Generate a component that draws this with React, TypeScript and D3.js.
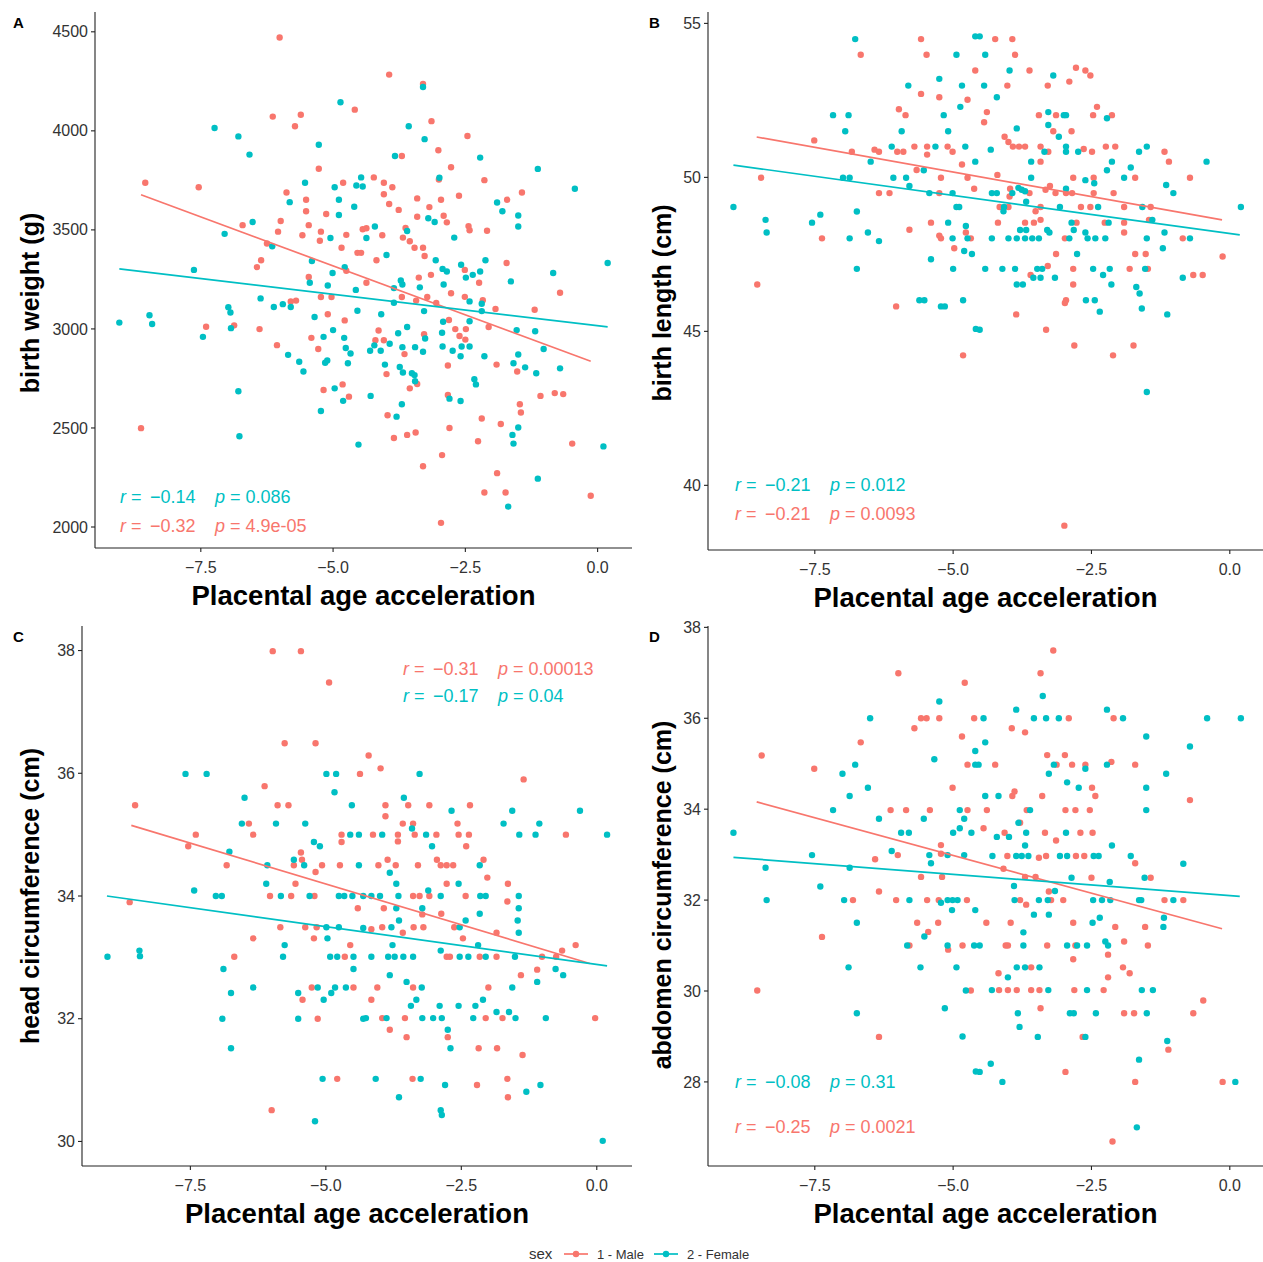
import React from 'react';
import * as d3 from 'd3';

const W = 1263;
const H = 1262;
const MALE = '#F8766D';
const FEMALE = '#00BFC4';
const FONT = '"Liberation Sans", Arial, sans-serif';
const NB = '\u00A0';

const xTicks = [-7.5, -5.0, -2.5, 0.0];
const weightTicks = [2000, 2500, 3000, 3500, 4000, 4500];
const lengthTicks = [40, 45, 50, 55];
const headTicks = [30, 32, 34, 36, 38];
const abdomenTicks = [28, 30, 32, 34, 36, 38];

// placental age acceleration vs birth weight (g)
const weightMale = [
  [-6.01,4471],[-4.59,4107],[-6.14,4072],[-5.61,4081],[-5.72,4023],[-5.27,3809],[-8.55,3738],[-7.54,3715],[-4.81,3738],
  [-5.88,3689],[-5.51,3652],[-5.51,3594],[-5.13,3580],[-5.99,3545],[-5.46,3524],[-6.71,3524],[-6.04,3491],[-5.23,3491],
  [-5.58,3473],[-4.75,3475],[-5.25,3445],[-6.25,3431],[-4.84,3410],[-4.54,3384],[-4.47,3384],[-4.44,3503],[-6.36,3347],
  [-6.44,3312],[-4.75,3294],[-5.46,3262],[-5.23,3161],[-5.03,3161],[-5.80,3139],[-5.70,3143],[-7.40,3011],[-6.87,3018],
  [-6.39,2999],[-5.10,3074],[-4.78,3043],[-5.41,2955],[-5.28,2899],[-6.06,2918],[-5.18,2692],[-4.82,2720],[-4.70,2658],
  [-8.63,2499],
  [-3.94,4284],[-3.30,4237],[-3.14,4049],[-2.46,3974],[-3.01,3902],[-3.70,3873],[-2.77,3816],[-3.00,3754],[-2.14,3751],
  [-4.23,3765],[-4.04,3738],[-3.88,3715],[-4.04,3680],[-3.94,3631],[-3.76,3601],[-3.41,3659],[-3.18,3615],[-2.96,3652],
  [-2.62,3672],[-3.41,3566],[-2.91,3571],[-2.85,3538],[-2.44,3519],[-2.42,3498],[-1.71,3652],[-1.43,3689],[-2.09,3496],
  [-4.37,3508],[-4.07,3473],[-3.63,3510],[-3.68,3461],[-3.55,3443],[-3.46,3410],[-3.30,3410],[-3.27,3368],[-4.18,3347],
  [-3.15,3273],[-3.38,3259],[-4.37,3233],[-3.70,3161],[-3.43,3143],[-3.22,3161],[-3.05,3131],[-2.51,3298],[-2.24,3233],
  [-2.51,3162],[-2.77,3180],[-2.17,3145],[-1.93,3101],[-1.72,3333],[-0.71,3183],[-1.19,3097],[-4.14,2992],[-4.20,2943],
  [-4.04,2943],[-3.65,2873],[-3.28,2973],[-2.81,3045],[-2.69,2999],[-2.61,2964],[-2.50,2946],[-2.49,2999],[-2.06,3010],
  [-1.52,2785],[-1.91,2820],[-3.99,2772],[-3.41,2722],[-3.55,2700],[-2.83,2815],[-2.83,2667],[-3.97,2564],[-3.85,2449],
  [-3.60,2465],[-3.44,2477],[-2.80,2500],[-2.19,2548],[-1.83,2520],[-2.26,2433],[-1.47,2620],[-1.45,2578],[-1.08,2662],
  [-0.81,2676],[-0.65,2671],[-0.48,2421],[-3.30,2307],[-2.94,2363],[-1.90,2272],[-2.14,2174],[-1.74,2174],[-0.13,2158],
  [-2.96,2021],
];
const weightFemale = [
  [-4.86,4144],[-7.24,4014],[-6.79,3972],[-6.58,3880],[-5.27,3930],[-5.53,3738],[-4.97,3715],[-4.56,3724],[-4.47,3765],
  [-4.44,3719],[-5.82,3640],[-4.89,3652],[-4.60,3617],[-4.89,3575],[-6.52,3540],[-7.05,3480],[-5.05,3459],[-6.15,3417],
  [-5.40,3343],[-4.78,3312],[-7.63,3298],[-5.01,3282],[-5.44,3233],[-5.10,3219],[-4.57,3197],[-6.37,3154],[-6.12,3111],
  [-5.95,3125],[-5.80,3111],[-4.54,3092],[-6.98,3110],[-6.94,3083],[-8.47,3069],[-8.42,3025],[-9.04,3032],[-7.46,2960],
  [-6.93,3004],[-5.35,3060],[-5.00,2994],[-5.18,2960],[-4.79,2955],[-4.76,2904],[-4.67,2876],[-5.85,2869],[-5.64,2834],
  [-5.56,2785],[-5.15,2829],[-5.11,2841],[-4.72,2827],[-6.79,2685],[-4.97,2700],[-4.81,2637],[-5.23,2586],[-6.77,2458],
  [-4.52,2416],
  [-3.30,4221],[-3.57,4023],[-3.27,3958],[-3.83,3873],[-2.22,3865],[-1.13,3808],[-2.99,3763],[-0.43,3708],[-3.20,3559],
  [-3.08,3540],[-1.90,3638],[-1.80,3594],[-1.50,3573],[-1.50,3517],[-4.21,3517],[-4.37,3459],[-3.60,3494],[-2.71,3461],
  [-3.99,3373],[-3.06,3347],[-2.93,3303],[-2.85,3290],[-3.72,3245],[-3.69,3224],[-3.85,3206],[-3.85,3132],[-3.36,3210],
  [-3.28,3090],[-2.91,3224],[-2.58,3324],[-2.49,3259],[-2.36,3273],[-2.22,3290],[-2.12,3347],[-2.42,3139],[-2.19,3127],
  [-2.19,3090],[-1.64,3240],[-0.84,3282],[-4.09,3074],[-3.93,2925],[-4.22,2917],[-4.30,2890],[-4.10,2890],[-3.77,2978],
  [-3.60,3010],[-3.69,2908],[-3.45,2908],[-3.30,2885],[-3.26,2952],[-2.94,2981],[-2.92,3036],[-2.42,3039],[-2.93,2911],
  [-2.74,2890],[-2.59,2862],[-2.57,2911],[-2.42,2911],[-2.14,2862],[-1.53,2994],[-1.18,2988],[-1.02,2899],[-1.50,2871],
  [-1.59,2827],[-1.37,2806],[-1.16,2776],[-0.71,2801],[-4.02,2820],[-3.74,2808],[-3.68,2780],[-3.51,2776],[-3.46,2767],
  [-3.45,2736],[-4.29,2662],[-2.80,2648],[-2.59,2636],[-2.33,2746],[-2.30,2720],[-3.70,2620],[-3.80,2557],[-1.50,2502],
  [-1.61,2465],[-1.59,2421],[0.11,2407],[0.19,3333],[-1.13,2244],[-1.69,2103],
];
const weightFitMale = [[-8.63,3677],[-0.13,2837]];
const weightFitFemale = [[-9.04,3303],[0.19,3010]];
const weightStats = [
  { sex: 'female', r: '\u22120.14', p: '0.086' },
  { sex: 'male', r: '\u22120.32', p: '4.9e-05' },
];

// birth length (cm)
const lengthMale = [
  [-5.58,54.49],[-6.67,53.98],[-5.48,53.98],[-4.60,53.47],[-5.58,52.71],[-5.25,52.60],[-4.74,52.52],[-5.98,52.21],[-5.86,52.02],
  [-7.51,51.20],[-5.70,51.00],[-5.47,51.00],[-5.10,51.00],[-6.42,50.90],[-6.34,50.83],[-6.01,50.83],[-5.90,50.83],[-6.83,50.83],
  [-5.47,50.74],[-5.01,50.83],[-4.84,50.42],[-5.66,50.24],[-8.47,49.99],[-5.22,49.99],[-4.74,49.99],[-6.34,49.49],[-6.15,49.49],
  [-5.25,49.49],[-4.62,49.63],[-7.37,48.02],[-5.79,48.30],[-5.40,48.53],[-5.25,48.11],[-5.22,48.02],[-4.98,47.70],[-4.77,48.21],
  [-4.68,48.02],[-8.54,46.52],[-6.03,45.81],[-4.82,44.22],
  [-4.24,54.49],[-3.93,54.49],[-3.88,53.98],[-3.62,53.47],[-2.78,53.56],[-2.61,53.47],[-2.52,53.31],[-4.02,52.98],[-3.29,52.98],
  [-2.90,53.11],[-2.40,52.29],[-4.39,52.12],[-4.44,51.79],[-3.45,52.02],[-3.14,52.02],[-2.47,52.02],[-2.13,52.02],[-3.19,51.50],
  [-2.86,51.50],[-4.07,51.32],[-4.00,51.15],[-3.92,51.00],[-3.81,51.00],[-3.70,51.00],[-3.42,51.00],[-3.28,50.83],[-2.64,50.92],
  [-2.49,50.83],[-2.24,51.00],[-2.07,51.00],[-1.18,50.83],[-1.10,50.51],[-3.42,50.51],[-4.20,50.08],[-2.83,49.99],[-2.46,49.99],
  [-1.71,49.99],[-0.72,49.99],[-3.97,49.63],[-3.62,49.49],[-3.33,49.60],[-3.25,49.72],[-3.15,49.49],[-2.96,49.49],[-2.85,49.49],
  [-2.46,49.49],[-2.10,49.49],[-3.98,49.38],[-4.16,49.04],[-4.00,49.04],[-3.51,48.90],[-3.42,49.04],[-2.69,49.04],[-2.52,49.04],
  [-1.91,49.04],[-1.43,49.04],[-4.19,48.53],[-3.70,48.53],[-3.54,48.53],[-3.42,48.62],[-2.77,48.53],[-2.26,48.53],[-1.91,48.53],
  [-1.91,48.21],[-1.46,48.62],[-2.98,48.02],[-0.85,48.02],[-3.14,47.51],[-1.71,47.51],[-1.52,47.51],[-0.13,47.43],[-3.29,47.12],
  [-3.60,46.83],[-2.83,47.03],[-2.83,46.52],[-1.81,47.03],[-1.48,47.03],[-0.66,46.83],[-0.49,46.83],[-2.96,46.01],[-2.98,45.92],
  [-3.86,45.55],[-3.32,45.05],[-2.81,44.54],[-2.11,44.22],[-1.74,44.54],[-2.99,38.69],
];
const lengthFemale = [
  [-6.77,54.49],[-4.94,53.98],[-4.60,54.58],[-5.25,53.20],[-5.81,52.98],[-4.84,52.98],[-4.87,52.29],[-7.17,52.02],[-6.89,52.02],
  [-5.17,52.02],[-6.95,51.50],[-5.93,51.50],[-5.09,51.50],[-6.11,51.00],[-5.32,51.00],[-4.78,51.00],[-6.49,50.51],[-4.60,50.51],
  [-5.53,50.23],[-6.99,49.99],[-6.87,49.99],[-6.08,49.99],[-5.85,49.99],[-5.79,49.72],[-5.43,49.49],[-5.01,49.49],[-8.97,49.04],
  [-8.39,48.62],[-8.37,48.21],[-7.55,48.53],[-7.40,48.79],[-6.87,48.02],[-6.74,48.89],[-6.54,48.21],[-6.34,47.93],[-5.09,48.53],
  [-5.01,48.02],[-4.94,49.04],[-4.89,49.04],[-4.77,48.42],[-4.74,48.02],[-4.80,47.61],[-4.66,47.51],[-5.40,47.34],[-5.00,47.03],
  [-6.74,47.03],[-5.61,46.01],[-5.52,46.01],[-5.22,45.81],[-5.15,45.81],[-4.82,46.01],[-4.59,45.08],
  [-4.52,54.58],[-4.42,53.98],[-3.98,53.47],[-3.19,53.31],[-4.44,52.98],[-4.21,52.60],[-3.28,52.12],[-3.00,52.02],[-2.96,52.02],
  [-2.22,51.92],[-3.28,51.70],[-3.09,51.32],[-3.85,51.59],[-4.32,50.90],[-3.35,50.83],[-2.96,51.00],[-2.96,50.83],[-2.74,50.83],
  [-1.64,50.83],[-1.50,51.00],[-0.42,50.51],[-3.59,50.51],[-2.13,50.51],[-2.22,50.23],[-1.79,50.32],[-3.59,49.99],[-2.61,49.91],
  [-2.45,49.81],[-1.91,49.99],[-1.15,49.75],[-1.02,49.49],[-4.30,49.49],[-4.21,49.49],[-3.93,49.49],[-3.82,49.66],[-3.76,49.60],
  [-3.70,49.55],[-2.96,49.63],[-3.68,49.21],[-4.08,49.04],[-4.09,48.90],[-3.07,49.04],[-2.38,49.04],[-1.58,49.04],[-3.79,48.29],
  [-3.68,48.29],[-3.30,48.29],[-3.26,48.21],[-2.86,48.53],[-2.82,48.29],[-2.61,48.21],[-2.19,48.53],[-1.40,48.62],[-1.18,48.21],
  [-4.30,48.02],[-4.00,48.02],[-3.85,48.02],[-3.70,48.02],[-3.57,48.02],[-3.45,48.02],[-2.90,48.02],[-2.57,48.02],[-2.43,48.02],
  [-2.25,48.02],[-1.50,48.02],[-0.72,48.02],[-2.76,47.51],[-1.21,47.70],[-4.42,47.03],[-4.11,47.03],[-3.88,47.03],[-3.48,47.03],
  [-3.39,47.03],[-3.55,46.74],[-3.42,46.74],[-3.16,46.74],[-3.85,46.52],[-3.74,46.52],[-2.47,47.03],[-2.29,46.83],[-2.17,47.03],
  [-2.14,46.52],[-1.53,47.03],[-1.69,46.44],[-1.63,46.23],[-0.85,46.74],[-2.60,46.01],[-2.44,46.01],[-2.35,45.64],[-1.59,45.74],
  [-1.13,45.55],[-4.52,45.05],[-1.50,43.03],[0.20,49.04],
];
const lengthFitMale = [[-8.55,51.31],[-0.14,48.62]];
const lengthFitFemale = [[-8.97,50.40],[0.18,48.13]];
const lengthStats = [
  { sex: 'female', r: '\u22120.21', p: '0.012' },
  { sex: 'male', r: '\u22120.21', p: '0.0093' },
];

// head circumference (cm)
const headMale = [
  [-5.98,37.99],[-5.46,37.99],[-4.94,37.48],[-5.76,36.49],[-5.19,36.49],[-4.37,35.99],[-6.13,35.79],[-8.52,35.48],[-5.89,35.48],
  [-5.69,35.48],[-6.42,35.18],[-6.34,35.00],[-7.40,35.00],[-7.54,34.81],[-4.71,35.00],[-4.71,34.88],[-5.46,34.71],[-5.44,34.59],
  [-5.59,34.50],[-5.07,34.50],[-4.74,34.50],[-6.83,34.50],[-5.19,34.39],[-5.56,34.20],[-6.03,34.00],[-5.64,34.00],[-5.21,34.00],
  [-8.62,33.90],[-4.41,33.80],[-5.84,33.49],[-5.38,33.49],[-5.17,33.49],[-6.34,33.31],[-5.22,33.31],[-4.55,33.20],[-6.69,33.01],
  [-4.65,33.01],[-5.26,32.51],[-5.43,32.31],[-4.49,32.51],[-5.15,32.00],[-4.79,31.02],[-6.00,30.51],
  [-4.21,36.29],[-3.99,36.08],[-1.35,35.90],[-3.90,35.48],[-3.48,35.48],[-3.09,35.48],[-2.34,35.48],[-3.90,35.30],[-3.58,35.18],
  [-3.39,35.18],[-2.57,35.18],[-4.13,35.00],[-3.67,35.00],[-3.67,34.89],[-3.36,35.00],[-2.96,35.00],[-2.55,35.00],[-2.36,35.00],
  [-0.57,35.00],[-2.41,34.81],[-3.86,34.59],[-3.71,34.50],[-4.03,34.50],[-3.30,34.50],[-2.95,34.59],[-2.88,34.50],[-2.77,34.50],
  [-2.65,34.50],[-2.09,34.59],[-2.77,34.20],[-2.02,34.30],[-1.64,34.20],[-3.39,34.00],[-3.27,34.00],[-3.09,34.00],[-2.42,34.00],
  [-1.65,33.91],[-3.93,33.80],[-3.22,33.70],[-2.87,33.71],[-4.16,33.46],[-3.96,33.49],[-3.58,33.40],[-3.38,33.49],[-3.20,33.49],
  [-2.63,33.49],[-2.47,33.31],[-1.85,33.40],[-0.64,33.11],[-0.39,33.20],[-2.77,33.01],[-2.71,33.01],[-2.16,33.01],[-1.85,33.01],
  [-1.01,33.01],[-0.75,33.01],[-1.10,32.80],[-1.40,32.71],[-3.39,32.51],[-4.05,32.51],[-2.00,32.51],[-4.16,32.31],[-3.96,32.01],
  [-3.54,32.01],[-2.05,32.01],[-1.74,32.01],[-0.03,32.01],[-3.82,31.82],[-3.51,31.70],[-2.75,31.70],[-2.18,31.52],[-1.84,31.52],
  [-1.37,31.41],[-3.40,31.02],[-2.21,30.92],[-1.65,31.02],[-1.64,30.72],
];
const headFemale = [
  [-7.59,35.99],[-7.20,35.99],[-4.99,35.99],[-4.81,35.99],[-4.84,35.69],[-6.50,35.60],[-4.52,35.48],[-6.55,35.18],[-5.92,35.18],
  [-5.38,35.18],[-4.55,35.00],[-4.39,35.00],[-5.22,34.88],[-5.11,34.81],[-6.78,34.72],[-5.59,34.59],[-5.40,34.50],[-4.39,34.50],
  [-6.08,34.50],[-6.10,34.20],[-7.43,34.09],[-7.03,34.00],[-6.92,34.00],[-5.83,34.00],[-5.30,34.00],[-4.76,34.00],[-4.66,34.00],
  [-4.51,34.00],[-4.99,33.49],[-4.76,33.49],[-4.97,33.31],[-5.76,33.20],[-8.44,33.11],[-8.43,33.02],[-9.03,33.01],[-5.79,33.01],
  [-4.92,33.01],[-4.79,33.01],[-4.49,33.01],[-6.89,32.81],[-4.49,32.81],[-6.34,32.51],[-6.75,32.42],[-5.51,32.42],[-5.15,32.51],
  [-5.04,32.31],[-4.90,32.42],[-4.83,32.51],[-4.63,32.51],[-6.91,32.00],[-5.51,32.00],[-4.31,32.00],[-6.75,31.52],[-5.06,31.02],
  [-5.20,30.33],
  [-3.27,35.99],[-3.56,35.60],[-2.68,35.39],[-1.56,35.39],[-0.31,35.39],[-3.41,35.10],[-1.72,35.18],[-1.06,35.18],[-3.96,35.00],
  [-3.15,35.00],[-1.43,35.00],[-1.13,35.00],[0.19,35.00],[-3.04,34.81],[-2.16,34.50],[-3.82,34.38],[-3.70,34.20],[-2.55,34.20],
  [-4.31,34.00],[-4.16,34.00],[-4.00,34.00],[-3.66,34.00],[-3.11,34.09],[-2.88,34.00],[-2.15,34.00],[-2.05,34.00],[-1.44,34.00],
  [-1.44,33.80],[-3.70,33.80],[-3.22,33.80],[-2.42,33.60],[-2.16,33.71],[-3.65,33.60],[-1.46,33.60],[-4.31,33.48],[-3.79,33.49],
  [-2.53,33.49],[-1.44,33.40],[-3.77,33.20],[-2.88,33.11],[-2.19,33.20],[-4.16,33.01],[-3.85,33.01],[-3.73,33.01],[-3.57,33.01],
  [-3.39,33.01],[-2.53,33.01],[-2.37,33.01],[-2.05,33.01],[-1.51,33.01],[-0.76,32.81],[-0.62,32.71],[-3.82,32.71],[-1.10,32.60],
  [-3.51,32.60],[-3.23,32.51],[-1.56,32.51],[-3.33,32.31],[-3.43,32.21],[-2.90,32.21],[-2.55,32.21],[-2.24,32.21],[-2.10,32.31],
  [-1.85,32.11],[-1.62,32.11],[-4.26,32.01],[-3.88,32.01],[-3.22,32.01],[-3.02,32.01],[-2.86,32.01],[-2.28,32.01],[-1.50,32.01],
  [-0.94,32.01],[-2.75,31.82],[-2.70,31.52],[-4.08,31.02],[-3.25,31.02],[-2.80,30.92],[-1.04,30.92],[-3.65,30.72],[-1.30,30.81],
  [-2.88,30.51],[-2.86,30.43],[0.11,30.01],
];
const headFitMale = [[-8.59,35.15],[-0.13,32.9]];
const headFitFemale = [[-9.04,34.0],[0.19,32.86]];
const headStats = [
  { sex: 'male', r: '\u22120.31', p: '0.00013' },
  { sex: 'female', r: '\u22120.17', p: '0.04' },
];

// abdomen circumference (cm)
const abdomenMale = [
  [-5.99,36.99],[-4.79,36.78],[-5.58,36.00],[-5.48,36.00],[-5.25,36.00],[-4.62,36.00],[-5.70,35.78],[-4.84,35.60],[-6.67,35.47],
  [-8.46,35.18],[-7.51,34.89],[-4.74,34.98],[-5.01,34.47],[-6.13,33.98],[-5.85,33.98],[-5.42,33.98],[-4.74,33.98],[-5.22,33.21],
  [-6.41,32.90],[-6.00,32.99],[-5.22,33.02],[-5.58,32.51],[-5.20,32.51],[-6.34,32.19],[-6.81,32.00],[-6.03,32.00],[-5.47,32.00],
  [-5.26,32.00],[-4.75,32.00],[-5.65,31.50],[-5.27,31.50],[-5.45,31.30],[-7.37,31.19],[-5.79,31.00],[-5.09,30.91],[-4.83,31.00],
  [-8.54,30.01],[-4.68,30.01],[-6.34,28.99],
  [-3.19,37.49],[-3.42,36.99],[-2.91,36.00],[-2.10,36.00],[-3.94,35.78],[-3.70,35.69],[-3.30,35.19],[-2.98,35.19],[-4.24,34.98],
  [-3.13,34.98],[-2.85,34.98],[-2.61,34.98],[-2.14,35.04],[-1.71,34.98],[-2.49,34.47],[-2.43,34.29],[-3.93,34.29],[-3.89,34.39],
  [-3.39,34.29],[-4.39,33.98],[-3.67,33.98],[-2.97,33.98],[-2.79,33.98],[-2.53,33.98],[-0.72,34.20],[-3.79,33.70],[-4.45,33.58],
  [-4.07,33.48],[-3.34,33.48],[-3.14,33.31],[-2.70,33.48],[-2.48,33.48],[-4.02,32.97],[-3.45,32.93],[-3.32,32.97],[-2.78,32.97],
  [-2.63,32.97],[-1.71,32.81],[-4.09,32.69],[-3.70,32.51],[-3.51,32.51],[-2.50,32.49],[-1.43,32.49],[-3.27,32.19],[-3.79,32.00],
  [-3.68,31.90],[-3.23,32.00],[-3.01,32.00],[-1.18,32.00],[-0.84,32.00],[-4.40,31.50],[-3.96,31.50],[-2.83,31.50],[-2.07,31.41],
  [-1.53,31.41],[-4.05,31.00],[-4.01,31.00],[-3.30,31.00],[-2.79,31.00],[-1.91,31.09],[-1.48,31.00],[-2.83,30.70],[-2.20,30.80],
  [-4.18,30.39],[-3.59,30.52],[-1.93,30.52],[-1.81,30.39],[-2.20,30.30],[-4.17,30.02],[-4.01,30.02],[-3.85,30.02],[-3.59,30.02],
  [-3.44,30.02],[-2.81,30.02],[-2.28,30.02],[-0.48,29.79],[-3.42,29.62],[-1.91,29.51],[-1.73,29.51],[-0.66,29.51],[-2.66,28.99],
  [-1.11,28.71],[-2.97,28.22],[-1.71,28.00],[-0.13,28.00],[-2.12,26.69],
];
const abdomenFemale = [
  [-5.25,36.37],[-6.50,36.00],[-7.00,34.78],[-6.77,34.98],[-5.34,35.10],[-4.60,34.98],[-4.60,35.28],[-6.87,34.29],[-6.54,34.47],
  [-7.17,33.98],[-4.88,33.98],[-6.34,33.79],[-5.53,33.79],[-4.80,33.79],[-4.88,33.58],[-8.97,33.48],[-5.94,33.48],[-5.80,33.48],
  [-5.00,33.48],[-4.67,33.48],[-7.55,32.99],[-6.11,33.08],[-5.43,32.99],[-5.40,32.81],[-5.10,32.99],[-4.80,32.99],[-8.39,32.71],
  [-6.87,32.71],[-7.40,32.30],[-8.37,32.00],[-6.97,32.00],[-5.79,32.00],[-5.22,31.94],[-5.10,32.00],[-5.01,32.00],[-4.92,32.00],
  [-5.02,31.78],[-4.60,31.78],[-6.74,31.50],[-5.52,31.20],[-5.83,31.00],[-5.10,31.00],[-4.62,31.00],[-6.89,30.52],[-5.59,30.52],
  [-4.94,30.52],[-4.77,30.01],[-5.15,29.62],[-6.74,29.51],[-4.83,29.00],[-4.59,28.23],
  [-3.38,36.49],[-3.86,36.19],[-2.22,36.19],[-4.45,36.00],[-3.54,36.00],[-3.32,36.00],[-3.09,36.00],[-1.93,36.00],[-0.41,36.00],
  [0.20,36.00],[-1.51,35.60],[-4.42,35.47],[-0.72,35.38],[-4.54,34.98],[-3.18,34.98],[-2.61,34.89],[-2.22,34.98],[-3.27,34.78],
  [-1.15,34.78],[-2.94,34.59],[-2.73,34.47],[-4.42,34.29],[-4.18,34.29],[-1.51,34.47],[-3.61,33.98],[-1.51,33.98],[-3.82,33.70],
  [-4.21,33.39],[-3.99,33.39],[-3.68,33.48],[-2.96,33.48],[-3.70,33.20],[-2.13,33.20],[-4.29,32.97],[-3.86,32.97],[-3.76,32.97],
  [-3.64,32.97],[-3.07,32.97],[-2.94,32.97],[-2.46,32.97],[-2.37,32.97],[-1.79,32.97],[-0.84,32.80],[-2.86,32.49],[-1.54,32.49],
  [-3.90,32.31],[-3.16,32.20],[-2.17,32.40],[-3.89,32.00],[-3.45,32.00],[-3.29,32.00],[-2.47,32.00],[-2.31,32.00],[-2.16,32.00],
  [-1.64,32.00],[-1.60,32.00],[-1.02,32.00],[-3.54,31.68],[-3.27,31.68],[-2.48,31.50],[-2.35,31.61],[-1.20,31.41],[-1.19,31.61],
  [-3.73,31.29],[-4.52,31.00],[-3.73,31.00],[-2.94,31.00],[-2.76,31.00],[-2.58,31.00],[-2.25,31.09],[-2.20,31.00],[-4.01,30.30],
  [-3.85,30.52],[-3.70,30.52],[-3.44,30.52],[-4.30,30.02],[-3.28,30.02],[-2.58,30.02],[-1.59,30.02],[-1.39,30.02],[-3.83,29.51],
  [-2.89,29.51],[-2.82,29.51],[-2.42,29.51],[-1.50,29.51],[-3.80,29.21],[-3.47,28.99],[-2.61,28.99],[-1.13,28.90],[-1.64,28.49],
  [-4.32,28.40],[-4.52,28.22],[-4.11,28.00],[0.10,28.00],[-1.68,27.00],
];
const abdomenFitMale = [[-8.55,34.16],[-0.14,31.37]];
const abdomenFitFemale = [[-8.97,32.94],[0.18,32.08]];
const abdomenStats = [
  { sex: 'female', r: '\u22120.08', p: '0.31' },
  { sex: 'male', r: '\u22120.25', p: '0.0021' },
];

const panels = [
  { letter: 'A', lx: 13, ly: 28, l: 95, r: 632, t: 12, b: 548, xDomain: [-9.5, 0.65], yDomain: [1894, 4600],
    yTicks: weightTicks, yTitle: 'birth weight (g)', titleX: 30, titleY: 303,
    male: weightMale, female: weightFemale, fitM: weightFitMale, fitF: weightFitFemale,
    stats: weightStats, sx: 120, sy: [503, 532] },
  { letter: 'B', lx: 649, ly: 28, l: 708, r: 1263, t: 12, b: 550, xDomain: [-9.43, 0.6], yDomain: [37.9, 55.37],
    yTicks: lengthTicks, yTitle: 'birth length (cm)', titleX: 662, titleY: 303,
    male: lengthMale, female: lengthFemale, fitM: lengthFitMale, fitF: lengthFitFemale,
    stats: lengthStats, sx: 735, sy: [491, 520] },
  { letter: 'C', lx: 13, ly: 642, l: 82, r: 632, t: 626, b: 1166, xDomain: [-9.5, 0.65], yDomain: [29.6, 38.4],
    yTicks: headTicks, yTitle: 'head circumference (cm)', titleX: 30, titleY: 896,
    male: headMale, female: headFemale, fitM: headFitMale, fitF: headFitFemale,
    stats: headStats, sx: 403, sy: [675, 702] },
  { letter: 'D', lx: 649, ly: 642, l: 708, r: 1263, t: 626, b: 1166, xDomain: [-9.43, 0.6], yDomain: [26.15, 38.03],
    yTicks: abdomenTicks, yTitle: 'abdomen circumference (cm)', titleX: 662, titleY: 895,
    male: abdomenMale, female: abdomenFemale, fitM: abdomenFitMale, fitF: abdomenFitFemale,
    stats: abdomenStats, sx: 735, sy: [1088, 1133] },
];

function Panel({ p }: { p: any }) {
  const x = d3.scaleLinear().domain(p.xDomain).range([p.l, p.r]);
  const y = d3.scaleLinear().domain(p.yDomain).range([p.b, p.t]);
  const line = d3.line<number[]>().x(d => x(d[0])).y(d => y(d[1]));
  const fmtX = d3.format('.1f');

  return (
    <g>
      <text x={p.lx} y={p.ly} fontSize={15} fontWeight="bold" fontFamily={FONT}>{p.letter}</text>

      {/* points: male first, female on top */}
      {p.male.map((d: number[], i: number) => (
        <circle key={'m' + i} cx={x(d[0])} cy={y(d[1])} r={3.2} fill={MALE} />
      ))}
      {p.female.map((d: number[], i: number) => (
        <circle key={'f' + i} cx={x(d[0])} cy={y(d[1])} r={3.2} fill={FEMALE} />
      ))}

      <path d={line(p.fitM) || ''} stroke={MALE} strokeWidth={1.7} fill="none" />
      <path d={line(p.fitF) || ''} stroke={FEMALE} strokeWidth={1.7} fill="none" />

      {/* axes */}
      <line x1={p.l} x2={p.l} y1={p.t} y2={p.b} stroke="#222" strokeWidth={1.1} />
      <line x1={p.l} x2={p.r} y1={p.b} y2={p.b} stroke="#222" strokeWidth={1.1} />
      {p.yTicks.map((t: number) => (
        <g key={'y' + t}>
          <line x1={p.l - 4} x2={p.l} y1={y(t)} y2={y(t)} stroke="#222" strokeWidth={1.1} />
          <text x={p.l - 7} y={y(t)} dy="0.35em" textAnchor="end" fontSize={16} fill="#333" fontFamily={FONT}>{t}</text>
        </g>
      ))}
      {xTicks.map(t => (
        <g key={'x' + t}>
          <line x1={x(t)} x2={x(t)} y1={p.b} y2={p.b + 4} stroke="#222" strokeWidth={1.1} />
          <text x={x(t)} y={p.b + 25} textAnchor="middle" fontSize={16} fill="#333" fontFamily={FONT}>{fmtX(t)}</text>
        </g>
      ))}

      <text x={(p.l + p.r) / 2} y={p.b + 57} textAnchor="middle" fontSize={27.5} fontWeight="bold" fontFamily={FONT}>
        Placental age acceleration
      </text>
      <text transform={`translate(${p.titleX},${p.titleY}) rotate(-90)`} dy="0.35em" textAnchor="middle"
        fontSize={25} fontWeight="bold" fontFamily={FONT}>
        {p.yTitle}
      </text>

      {p.stats.map((s: any, i: number) => {
        const c = s.sex === 'male' ? MALE : FEMALE;
        return (
          <text key={'s' + i} y={p.sy[i]} fontSize={18} fill={c} fontFamily={FONT}>
            <tspan x={p.sx} fontStyle="italic">r</tspan>
            <tspan>{NB + '='}</tspan>
            <tspan x={p.sx + 30}>{s.r}</tspan>
            <tspan x={p.sx + 95} fontStyle="italic">p</tspan>
            <tspan>{NB + '=' + NB + s.p}</tspan>
          </text>
        );
      })}
    </g>
  );
}

export default function App() {
  return (
    <svg width={W} height={H} viewBox={`0 0 ${W} ${H}`}
      style={{ position: 'absolute', left: 0, top: 0, background: '#fff' }}>
      <rect width={W} height={H} fill="#fff" />
      {panels.map(p => <Panel key={p.letter} p={p} />)}

      {/* legend */}
      <g fontFamily={FONT} fill="#333">
        <text x={529} y={1259} fontSize={15}>sex</text>
        <line x1={564} x2={588} y1={1254} y2={1254} stroke={MALE} strokeWidth={1.7} />
        <circle cx={576} cy={1254} r={3.2} fill={MALE} />
        <text x={597} y={1259} fontSize={13}>1 - Male</text>
        <line x1={654} x2={678} y1={1254} y2={1254} stroke={FEMALE} strokeWidth={1.7} />
        <circle cx={666} cy={1254} r={3.2} fill={FEMALE} />
        <text x={687} y={1259} fontSize={13}>2 - Female</text>
      </g>
    </svg>
  );
}
